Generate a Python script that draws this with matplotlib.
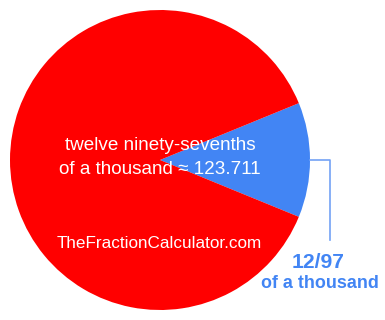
import matplotlib
matplotlib.use("Agg")
import matplotlib.pyplot as plt

labels = ["12/97 of a thousand", "rest"]
values = [12, 85]
colors = ["#4285f4", "#ff0000"]
center_text = ["twelve ninety-sevenths", "of a thousand \u2248 123.711"]
watermark = "TheFractionCalculator.com"

plt.rcParams['font.family'] = ['Liberation Sans', 'DejaVu Sans']

fig = plt.figure(figsize=(3.85, 3.2), dpi=100)
ax = fig.add_axes([0, 0, 1, 1])
start = -360 * values[0] / sum(values) / 2
ax.pie(values, colors=colors, startangle=start, center=(160, 160), radius=150,
       frame=True, wedgeprops=dict(linewidth=0))
ax.set_xlim(0, 385)
ax.set_ylim(320, 0)
ax.set_aspect('equal')
ax.axis('off')

ax.text(160, 145, center_text[0], color='white', fontsize=13.6, ha='center', va='center')
ax.text(160, 170, center_text[1], color='white', fontsize=13.6, ha='center', va='center')
ax.text(159, 244, watermark, color='white', fontsize=12.3, ha='center', va='center')

ax.plot([310, 330, 330], [160, 160, 240], color='#73a2f5', lw=1.2)
ax.text(318, 263, "12/97", color='#4285f4', fontsize=15.2, fontweight='bold', ha='center', va='center')
ax.text(320, 284, "of a thousand", color='#4285f4', fontsize=12.9, fontweight='bold', ha='center', va='center')

fig.savefig("out.png", dpi=100)
